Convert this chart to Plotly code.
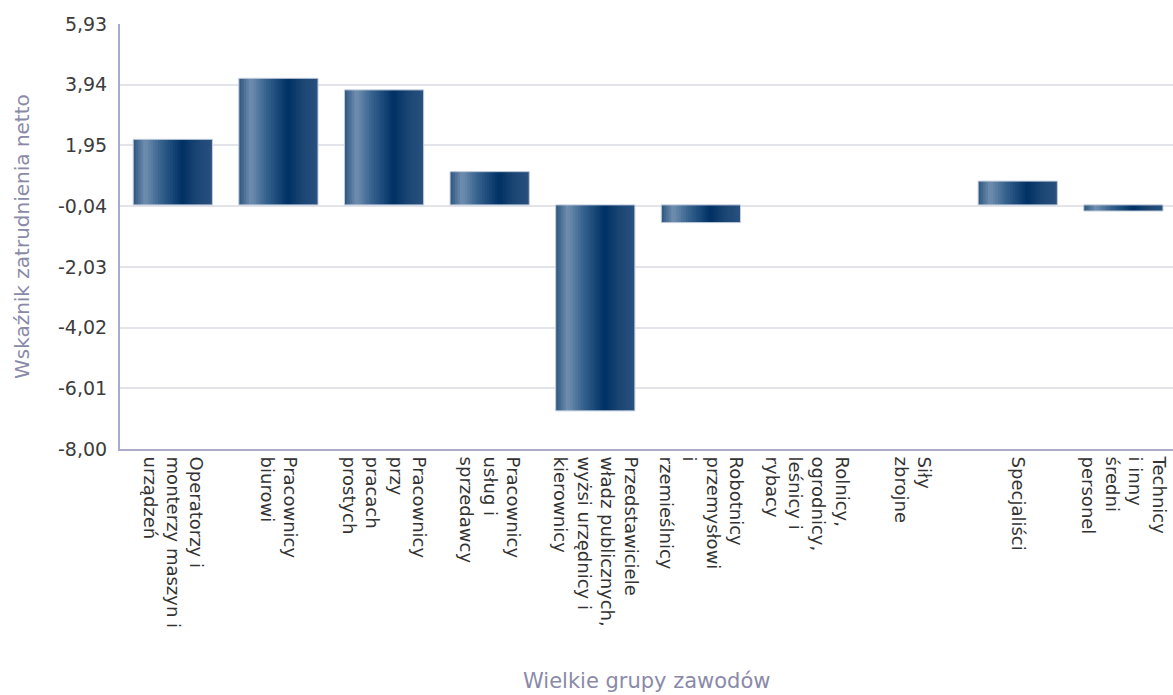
import plotly.graph_objects as go

categories = [
    "Operatorzy i<br>monterzy maszyn i<br>urządzeń",
    "Pracownicy<br>biurowi",
    "Pracownicy<br>przy<br>pracach<br>prostych",
    "Pracownicy<br>usług i<br>sprzedawcy",
    "Przedstawiciele<br>władz publicznych,<br>wyżsi urzędnicy i<br>kierownicy",
    "Robotnicy<br>przemysłowi<br>i<br>rzemieślnicy",
    "Rolnicy,<br>ogrodnicy,<br>leśnicy i<br>rybacy",
    "Siły<br>zbrojne",
    "Specjaliści",
    "Technicy<br>i inny<br>średni<br>personel",
]
values = [2.15, 4.15, 3.77, 1.09, -6.75, -0.58, None, None, 0.78, -0.20]

y_tick_values = [5.93, 3.94, 1.95, -0.04, -2.03, -4.02, -6.01, -8.00]
y_tick_labels = ["5,93", "3,94", "1,95", "-0,04", "-2,03", "-4,02", "-6,01", "-8,00"]

# horizontal gradient stops for bar fill (position, rgb)
grad_stops = [
    (0.00, (44, 85, 128)),
    (0.15, (112, 143, 176)),
    (0.35, (53, 97, 141)),
    (0.62, (0, 49, 100)),
    (0.80, (26, 69, 115)),
    (1.00, (42, 81, 128)),
]


def grad_color(t):
    for (p0, c0), (p1, c1) in zip(grad_stops[:-1], grad_stops[1:]):
        if p0 <= t <= p1:
            f = (t - p0) / (p1 - p0) if p1 > p0 else 0
            c = [round(a + (b - a) * f) for a, b in zip(c0, c1)]
            return f"rgb({c[0]},{c[1]},{c[2]})"
    c = grad_stops[-1][1]
    return f"rgb({c[0]},{c[1]},{c[2]})"


bar_w = 0.75
n_slices = 32
fig = go.Figure()
sw = bar_w / n_slices
for i in range(n_slices):
    t = (i + 0.5) / n_slices
    w = sw * 1.6 if i < n_slices - 1 else sw
    fig.add_trace(go.Bar(
        x=categories, y=values,
        width=w, offset=-bar_w / 2 + i * sw,
        marker=dict(color=grad_color(t), line=dict(width=0)),
        showlegend=False, hoverinfo="skip",
    ))
fig.add_trace(go.Bar(
    x=categories, y=values, width=bar_w,
    marker=dict(color="rgba(0,0,0,0)", line=dict(color="#c3cddc", width=1)),
    showlegend=False,
))

axis_color = "#a9abc8"
fig.update_layout(
    width=1173, height=695,
    barmode="overlay",
    paper_bgcolor="white", plot_bgcolor="white",
    margin=dict(l=120, r=0, t=24, b=246, autoexpand=False),
    font=dict(family="DejaVu Sans", size=19, color="#3a3a3a"),
    xaxis=dict(
        tickangle=90,
        showline=True, linecolor=axis_color, linewidth=2,
        showgrid=False, ticks="", ticklabelstandoff=2,
        tickfont=dict(size=18, color="#333333"),
        range=[-0.5, 9.47], automargin=False,
    ),
    yaxis=dict(
        range=[-8.0, 5.93],
        tickvals=y_tick_values, ticktext=y_tick_labels,
        showline=True, linecolor=axis_color, linewidth=2,
        showgrid=True, gridcolor="#e3e3ea", gridwidth=2,
        zeroline=False, ticks="", ticklabelstandoff=7,
        tickfont=dict(size=19, color="#3c3c3c"), automargin=False,
    ),
    annotations=[
        dict(text="Wskaźnik zatrudnienia netto", textangle=-90,
             xref="paper", yref="paper", x=-0.0935, y=0.5,
             xanchor="center", yanchor="middle", showarrow=False,
             font=dict(size=20, color="#8a8aa8")),
        dict(text="Wielkie grupy zawodów",
             xref="paper", yref="paper", x=0.5, y=-0.545,
             xanchor="center", yanchor="middle", showarrow=False,
             font=dict(size=21, color="#8a8aa8")),
    ],
)

fig.write_html(
    "out.html",
    config={"displayModeBar": False},
    post_script="document.body.style.margin='0';document.body.style.overflow='hidden';",
)
